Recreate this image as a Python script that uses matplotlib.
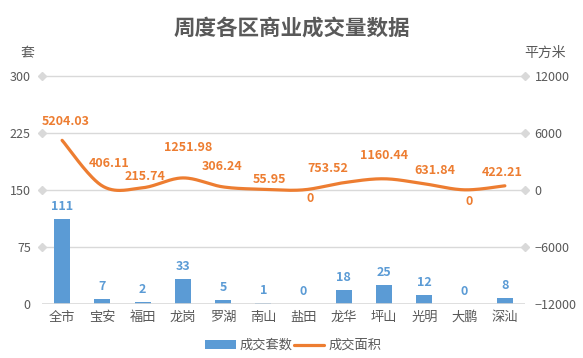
import numpy as np
import matplotlib
matplotlib.use('Agg')
import matplotlib.pyplot as plt
import matplotlib.transforms as mtransforms

plt.rcParams['font.family'] = ['Noto Sans CJK SC', 'DejaVu Sans']

# data
districts = ['全市', '宝安', '福田', '龙岗', '罗湖', '南山', '盐田', '龙华', '坪山', '光明', '大鹏', '深汕']
units = [111, 7, 2, 33, 5, 1, 0, 18, 25, 12, 0, 8]
area = [5204.03, 406.11, 215.74, 1251.98, 306.24, 55.95, 0, 753.52, 1160.44, 631.84, 0, 422.21]
area_text = ['5204.03', '406.11', '215.74', '1251.98', '306.24', '55.95', '0',
             '753.52', '1160.44', '631.84', '0', '422.21']
left_ticks = [0, 75, 150, 225, 300]
right_ticks = [-12000, -6000, 0, 6000, 12000]

# where each area label sits relative to its point (pixels)
label_offsets = [(4, 19), (7, 22), (2, 11), (5, 30), (-1, 20), (6, 10), (7, -9),
                 (-16, 14), (0, 23), (11, 13), (5, -12), (-3, 13)]

blue = '#5B9BD5'
orange = '#ED7D31'
gray = '#595959'
grid = '#D9D9D9'


def smooth(xs, ys, n=30):
    # catmull-rom curve through the points, like excel's smoothed line
    xs = np.asarray(xs, float)
    ys = np.asarray(ys, float)
    px = np.concatenate([[xs[0]], xs, [xs[-1]]])
    py = np.concatenate([[ys[0]], ys, [ys[-1]]])
    ox, oy = [], []
    t = np.linspace(0, 1, n, endpoint=False)
    h00 = 2 * t**3 - 3 * t**2 + 1
    h10 = t**3 - 2 * t**2 + t
    h01 = -2 * t**3 + 3 * t**2
    h11 = t**3 - t**2
    for i in range(1, len(px) - 2):
        for p, out in ((px, ox), (py, oy)):
            m1 = (p[i + 1] - p[i - 1]) / 2
            m2 = (p[i + 2] - p[i]) / 2
            out.extend(h00 * p[i] + h10 * m1 + h01 * p[i + 1] + h11 * m2)
    ox.append(xs[-1])
    oy.append(ys[-1])
    return np.array(ox), np.array(oy)


fig = plt.figure(figsize=(5.83, 3.58), dpi=100)
ax = fig.add_axes([0.072, 0.151, 0.8285, 0.6375])
ax2 = ax.twinx()

x = np.arange(len(districts))
ax.bar(x, units, width=0.4, color=blue, zorder=3, label='成交套数')
ax.set_xlim(-0.5, len(districts) - 0.5)
ax.set_ylim(0, 300)
ax.set_yticks(left_ticks)
ax2.set_ylim(-12000, 12000)
ax2.set_yticks(right_ticks)

for xi, v in zip(x, units):
    ax.annotate(str(v), (xi, v), xytext=(0, 6), textcoords='offset pixels',
                ha='center', va='bottom', color=blue, fontsize=9, fontweight='bold')

sx, sy = smooth(x, area)
ax2.plot(sx, sy, color=orange, lw=2.3, zorder=4, solid_capstyle='round', label='成交面积')
for xi, v, s, off in zip(x, area, area_text, label_offsets):
    ax2.annotate(s, (xi, v), xytext=off, textcoords='offset pixels',
                 ha='center', va='center', color=orange,
                 fontsize=9, fontweight='bold')

# gridlines with diamond ends
trans = mtransforms.blended_transform_factory(ax.transAxes, ax.transData)
for t in left_ticks[1:]:
    ax.plot([0, 1], [t, t], transform=trans, color=grid, lw=1, zorder=1,
            marker='D', markersize=4, clip_on=False)
ax.axhline(0, color=grid, lw=1.2, zorder=5)

for a in (ax, ax2):
    for s in a.spines.values():
        s.set_visible(False)
    a.tick_params(length=0, colors=gray, labelsize=9)
ax.tick_params(axis='y', pad=8)
ax2.tick_params(axis='y', pad=7)
ax.tick_params(axis='x', pad=5, labelsize=9.5)
ax.set_xticks(x)
ax.set_xticklabels(districts)

fig.text(0.5, 0.922, '周度各区商业成交量数据', ha='center', va='center',
         fontsize=15.5, fontweight='bold', color=gray)
fig.text(0.047, 0.852, '套', ha='center', va='center', fontsize=10, color=gray)
fig.text(0.935, 0.852, '平方米', ha='center', va='center', fontsize=10, color=gray)

h1, l1 = ax.get_legend_handles_labels()
h2, l2 = ax2.get_legend_handles_labels()
fig.legend(h1 + h2, l1 + l2, loc='center', bbox_to_anchor=(0.503, 0.035), ncol=2,
           frameon=False, fontsize=9.5, handlelength=2.3, handleheight=0.6,
           columnspacing=0.1, handletextpad=0.3, labelcolor=gray)

fig.savefig('out.png', dpi=100)
